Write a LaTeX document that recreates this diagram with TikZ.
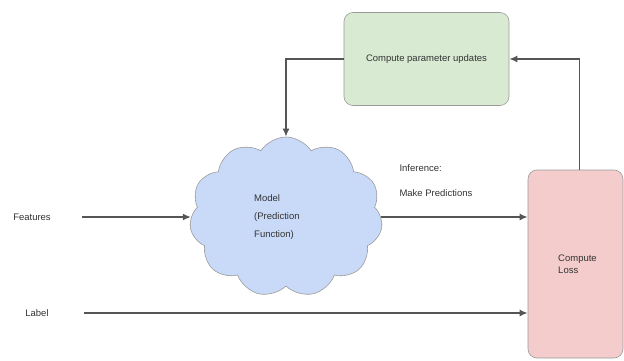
\documentclass[tikz,border=0pt]{standalone}
\usepackage{fontspec}
\setmainfont{Liberation Sans}
\usepackage{tikz}
\usetikzlibrary{arrows.meta,shapes.symbols}
\definecolor{edgegray}{HTML}{9A9A9A}
\definecolor{linegray}{HTML}{555555}
\definecolor{textgray}{HTML}{333333}
\definecolor{updgreen}{HTML}{D9EAD3}
\definecolor{modblue}{HTML}{C9DAF8}
\definecolor{losspink}{HTML}{F4CCCC}
\tikzset{
ARROW/.style ={draw=linegray,line width=1.8pt,-{Latex[length=8pt,width=7pt]}},
BOX/.style={draw=edgegray, line width=0.6pt, rounded corners=9pt, fill=#1, text=textgray, font=\fontsize{9.5}{12}\selectfont},
BOX/.default = white,
CLOUD/.style={cloud, cloud puffs=11, cloud puff arc=115, cloud ignores aspect, draw=edgegray, line width=0.6pt, fill=#1, text=textgray, align=left, font=\fontsize{9.5}{18}\selectfont},
TEXT/.style={text=textgray, font=\fontsize{9.5}{12}\selectfont},
}
\begin{document}
\begin{tikzpicture}
[x=1pt, y=1pt]
	\useasboundingbox (0,0) rectangle (624,360);
	\node[BOX=updgreen, minimum width=165, minimum height=93] (update) at (426.5,301) {Compute parameter updates};
	\node[CLOUD=modblue, minimum width=193, minimum height=160] (model) at (286,143) {Model\\(Prediction\\Function)\hspace*{24pt}};
	\node[BOX=losspink, minimum width=95, minimum height=188, align=left] (loss) at (575.5,96) {\hspace{4pt}Compute\\\hspace{4pt}Loss};
	\node[TEXT] (feat) at (32,143) {Features};
	\node[TEXT] (lab) at (37,47) {Label};
	\node[TEXT, anchor=west, align=left, font=\fontsize{9.5}{25}\selectfont] (infer) at (396,179.5) {Inference:\\Make Predictions};
	\coordinate (featin) at (82,143);
	\coordinate (labin) at (84,47);
	\draw[ARROW] (featin) -- (model.west);
	\draw[ARROW] (labin) -- (labin -| loss.west);
	\draw[ARROW] (model.east) -- (model.east -| loss.west);
	\draw[ARROW] ([xshift=4]loss.north) |- (update.east);
	\draw[ARROW] (update.west) -| (model.north);
\end{tikzpicture}
\end{document}
